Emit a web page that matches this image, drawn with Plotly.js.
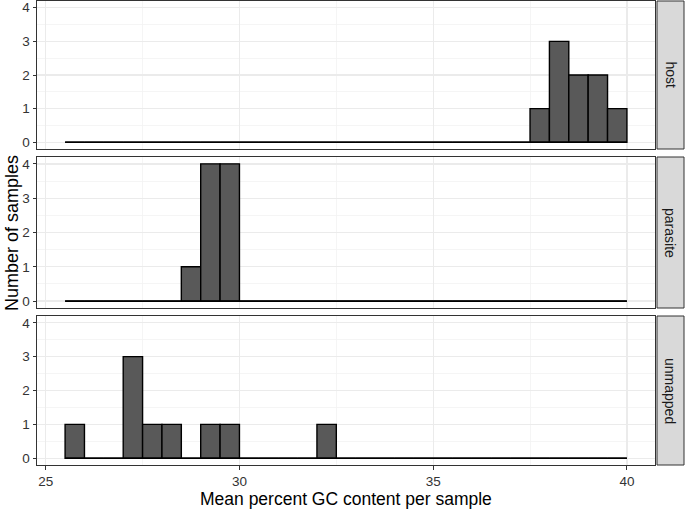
<!DOCTYPE html>
<html>
<head>
<meta charset="utf-8">
<script src="https://cdn.plot.ly/plotly-3.0.1.min.js"></script>
<style>html,body{margin:0;padding:0;background:#fff;}#chart{width:685px;height:509px;}</style>
</head>
<body>
<div id="chart"></div>
<script>
// Bin left edges (bin width 0.5)
var binStarts = [25.5,26,26.5,27,27.5,28,28.5,29,29.5,30,30.5,31,31.5,32,32.5,33,33.5,34,34.5,35,35.5,36,36.5,37,37.5,38,38.5,39,39.5];
var binWidth = 0.5;
var panels = ["host", "parasite", "unmapped"];
var hostCounts =     [0,0,0,0,0,0,0,0,0,0,0,0,0,0,0,0,0,0,0,0,0,0,0,0,1,3,2,2,1];
var parasiteCounts = [0,0,0,0,0,0,1,4,4,0,0,0,0,0,0,0,0,0,0,0,0,0,0,0,0,0,0,0,0];
var unmappedCounts = [1,0,0,3,1,1,0,1,1,0,0,0,0,1,0,0,0,0,0,0,0,0,0,0,0,0,0,0,0];
var xTicks = [25, 30, 35, 40];
var yTicks = [0, 1, 2, 3, 4];

var allCounts = [hostCounts, parasiteCounts, unmappedCounts];
var centers = binStarts.map(function(s){ return s + binWidth/2; });
var xmin = binStarts[0], xmax = binStarts[binStarts.length-1] + binWidth;
var xr = [xmin - 0.05*(xmax-xmin), xmax + 0.05*(xmax-xmin)];
var yr = [-0.2, 4.2];
var FONT = "Liberation Sans, Arial, Helvetica, sans-serif";

var traces = [];
var suffix = ["", "2", "3"];
allCounts.forEach(function(c, i){
  traces.push({
    type: "bar", x: centers, y: c, width: binWidth,
    xaxis: "x" + suffix[i], yaxis: "y" + suffix[i],
    marker: {color: "#595959", line: {color: "#000000", width: 1.4}},
    hoverinfo: "skip", showlegend: false
  });
  traces.push({
    type: "scatter", mode: "lines", x: [xmin, xmax], y: [0, 0],
    xaxis: "x" + suffix[i], yaxis: "y" + suffix[i],
    line: {color: "#000000", width: 1.7},
    hoverinfo: "skip", showlegend: false
  });
});

var TOP = 1, H = 464; // plot area from y=1 to y=465
function dom(top, bottom){ return [(465 - bottom)/H, (465 - top)/H]; }
var domains = [dom(1, 149), dom(157, 308), dom(316, 465)];

function xaxis(showLabels){
  return {
    domain: [0, 1], range: xr, tickvals: xTicks,
    showticklabels: showLabels, ticks: showLabels ? "outside" : "",
    ticklen: 3.5, tickcolor: "#333333", tickwidth: 1,
    showgrid: true, gridcolor: "#EBEBEB", gridwidth: 1.3,
    minor: {tickvals: [27.5, 32.5, 37.5], showgrid: true, gridcolor: "#F2F2F2", gridwidth: 0.8, ticks: ""},
    showline: true, linecolor: "#333333", linewidth: 1, mirror: true,
    zeroline: false, fixedrange: true,
    tickfont: {family: FONT, size: 13.5, color: "#333333"}
  };
}
function yaxis(i){
  return {
    domain: domains[i], range: yr, tickvals: yTicks,
    ticks: "outside", ticklen: 3.5, tickcolor: "#333333", tickwidth: 1,
    showgrid: true, gridcolor: "#EBEBEB", gridwidth: 1.3,
    minor: {tickvals: [0.5, 1.5, 2.5, 3.5], showgrid: true, gridcolor: "#F2F2F2", gridwidth: 0.8, ticks: ""},
    showline: true, linecolor: "#333333", linewidth: 1, mirror: true,
    zeroline: false, fixedrange: true, ticklabeloverflow: "allow",
    tickfont: {family: FONT, size: 13.5, color: "#333333"}
  };
}

var shapes = [], annotations = [];
var PW = 618;
panels.forEach(function(p, i){
  shapes.push({
    type: "rect", xref: "paper", yref: "paper",
    x0: 1 + 2/PW, x1: 1 + 29/PW, y0: domains[i][0], y1: domains[i][1],
    fillcolor: "#D9D9D9", line: {color: "#333333", width: 1}, layer: "above"
  });
  annotations.push({
    xref: "paper", yref: "paper", x: 1 + 15.5/PW, y: (domains[i][0] + domains[i][1]) / 2,
    text: p, showarrow: false, textangle: 90, xanchor: "center", yanchor: "middle",
    font: {family: FONT, size: 14, color: "#1A1A1A"}
  });
});
annotations.push({
  xref: "paper", yref: "paper", x: -25/PW, y: 0.5, text: "Number of samples",
  showarrow: false, textangle: -90, xanchor: "center", yanchor: "middle",
  font: {family: FONT, size: 18, color: "#000000"}
});
annotations.push({
  xref: "paper", yref: "paper", x: 0.5, y: -(498.5-465)/H, text: "Mean percent GC content per sample",
  showarrow: false, xanchor: "center", yanchor: "middle",
  font: {family: FONT, size: 17.5, color: "#000000"}
});

var layout = {
  width: 685, height: 509,
  margin: {l: 37, r: 30, t: TOP, b: 44},
  paper_bgcolor: "#FFFFFF", plot_bgcolor: "#FFFFFF",
  showlegend: false, bargap: 0,
  xaxis: Object.assign(xaxis(false), {anchor: "y"}),
  xaxis2: Object.assign(xaxis(false), {anchor: "y2"}),
  xaxis3: Object.assign(xaxis(true), {anchor: "y3"}),
  yaxis: Object.assign(yaxis(0), {anchor: "x"}),
  yaxis2: Object.assign(yaxis(1), {anchor: "x2"}),
  yaxis3: Object.assign(yaxis(2), {anchor: "x3"}),
  shapes: shapes, annotations: annotations
};

Plotly.newPlot("chart", traces, layout, {displayModeBar: false, staticPlot: true});
</script>
</body>
</html>
